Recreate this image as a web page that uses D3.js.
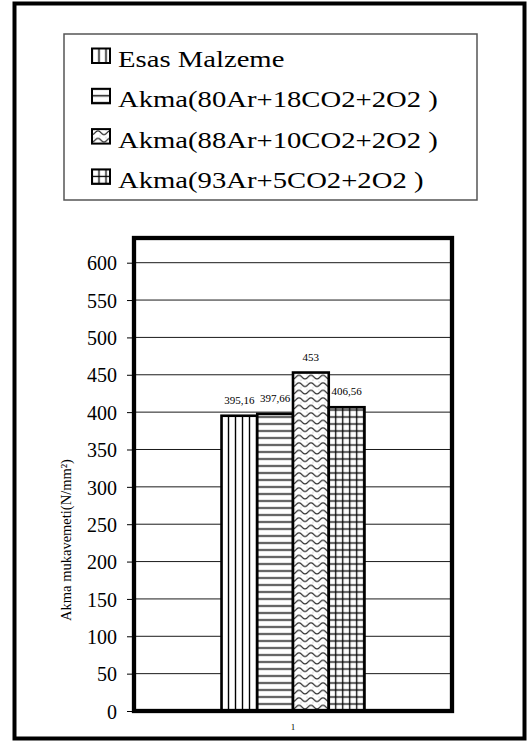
<!DOCTYPE html>
<html>
<head>
<meta charset="utf-8">
<script src="https://cdn.jsdelivr.net/npm/d3@7"></script>
<style>
  body { margin: 0; background: #fff; }
  text { font-family: "Liberation Serif", "Times New Roman", serif; fill: #000; }
</style>
</head>
<body>
<div id="chart"></div>
<script>
// data
var categories = ["1"];
var series = ["Esas Malzeme", "Akma(80Ar+18CO2+2O2 )", "Akma(88Ar+10CO2+2O2 )", "Akma(93Ar+5CO2+2O2 )"];
var values = [395.16, 397.66, 453, 406.56];
var patterns = ["vert", "horiz", "wave", "grid"];
var yTicks = [0, 50, 100, 150, 200, 250, 300, 350, 400, 450, 500, 550, 600];
var yTitle = "Akma mukavemeti(N/mm²)";

var width = 532;
var height = 743;

var plotLeft = 134, plotRight = 452, plotTop = 238, plotBottom = 711;

var svg = d3.select("#chart")
			.append("svg")
			.attr("width", width)
			.attr("height", height);

var defs = svg.append("defs");

// hatch fills, tile centred so the lines fall on (ox + k*step)
function addPattern(id, kind, ox, oy)
{
	var p = defs.append("pattern")
				.attr("id", id)
				.attr("patternUnits", "userSpaceOnUse");
	if (kind == "vert") {
		p.attr("width", 7).attr("height", 7).attr("x", ox - 3.5).attr("y", oy);
		p.append("rect").attr("width", 7).attr("height", 7).attr("fill", "#fff");
		p.append("line").attr("x1", 3.5).attr("x2", 3.5).attr("y1", 0).attr("y2", 7)
			.attr("stroke", "#000").attr("stroke-width", 1.4);
	} else if (kind == "horiz") {
		p.attr("width", 7).attr("height", 7).attr("x", ox).attr("y", oy - 3.5);
		p.append("rect").attr("width", 7).attr("height", 7).attr("fill", "#fff");
		p.append("line").attr("x1", 0).attr("x2", 7).attr("y1", 3.5).attr("y2", 3.5)
			.attr("stroke", "#000").attr("stroke-width", 1.4);
	} else if (kind == "grid") {
		p.attr("width", 7).attr("height", 7).attr("x", ox - 3.5).attr("y", oy - 3.5);
		p.append("rect").attr("width", 7).attr("height", 7).attr("fill", "#fff");
		p.append("line").attr("x1", 3.5).attr("x2", 3.5).attr("y1", 0).attr("y2", 7)
			.attr("stroke", "#000").attr("stroke-width", 1.3);
		p.append("line").attr("x1", 0).attr("x2", 7).attr("y1", 3.5).attr("y2", 3.5)
			.attr("stroke", "#000").attr("stroke-width", 1.3);
	} else {
		p.attr("width", 12).attr("height", 7.5).attr("x", ox).attr("y", oy);
		p.append("rect").attr("width", 12).attr("height", 7.5).attr("fill", "#fff");
		p.append("circle").attr("cx", 2).attr("cy", 1).attr("r", 0.5).attr("fill", "#999");
		p.append("circle").attr("cx", 8).attr("cy", 6.5).attr("r", 0.5).attr("fill", "#999");
		p.append("path").attr("d", "M0,5.5 C3,5.5 3,1.8 6,1.8 C9,1.8 9,5.5 12,5.5")
			.attr("fill", "none").attr("stroke", "#222").attr("stroke-width", 1.2);
	}
}

// outer frame
svg.append("rect")
	.attr("x", 14.5).attr("y", 3.5)
	.attr("width", 510).attr("height", 735)
	.attr("fill", "#fff")
	.attr("stroke", "#000")
	.attr("stroke-width", 4);

// scales
var x0 = d3.scaleBand()
			.domain(categories)
			.range([plotLeft, plotRight])
			.paddingOuter(0.612);

var x1 = d3.scaleBand()
			.domain(series)
			.range([0, x0.bandwidth()]);

var y = d3.scaleLinear()
			.domain([0, 600])
			.range([plotBottom, 262.7]);

// grid lines
var grupo_grilla = svg.append("g");
yTicks.filter(function(t){ return t > 0; }).forEach(function(t){
	grupo_grilla.append("line")
		.attr("x1", plotLeft).attr("x2", plotRight)
		.attr("y1", y(t)).attr("y2", y(t))
		.attr("stroke", "#1a1a1a")
		.attr("stroke-width", 1);
});

// y axis
var yAxis = svg.append("g")
				.attr("transform", "translate(" + plotLeft + ",0)")
				.call(d3.axisLeft(y).tickValues(yTicks).tickSize(7).tickPadding(10).tickFormat(d3.format("d")));
yAxis.select(".domain").remove();
yAxis.selectAll(".tick line").attr("stroke", "#000").attr("stroke-width", 1);
yAxis.selectAll(".tick text")
	.attr("font-family", "Liberation Serif")
	.attr("font-size", 20)
	.attr("dy", "0.36em")
	.attr("fill", "#000");

// bars
var grupo_barras = svg.append("g");
series.forEach(function(s, i){
	var bx = x0(categories[0]) + x1(s);
	addPattern("pb" + i, patterns[i], bx, y(0));
	grupo_barras.append("rect")
		.attr("x", bx)
		.attr("y", y(values[i]))
		.attr("width", x1.bandwidth())
		.attr("height", y(0) - y(values[i]))
		.attr("fill", "url(#pb" + i + ")")
		.attr("stroke", "#000")
		.attr("stroke-width", 2.6);
	grupo_barras.append("text")
		.attr("x", bx + x1.bandwidth() / 2)
		.attr("y", y(values[i]) - 12)
		.attr("text-anchor", "middle")
		.attr("font-size", 11)
		.text(String(values[i]).replace(".", ","));
});

// plot frame
svg.append("rect")
	.attr("x", plotLeft).attr("y", plotTop)
	.attr("width", plotRight - plotLeft)
	.attr("height", plotBottom - plotTop)
	.attr("fill", "none")
	.attr("stroke", "#000")
	.attr("stroke-width", 4.3);

// x category label
svg.append("text")
	.attr("x", x0(categories[0]) + x0.bandwidth() / 2)
	.attr("y", 730)
	.attr("text-anchor", "middle")
	.attr("font-size", 9)
	.text(categories[0]);

// y title
svg.append("text")
	.attr("transform", "translate(71,540) rotate(-90)")
	.attr("text-anchor", "middle")
	.attr("font-size", 14.5)
	.text(yTitle);

// legend
svg.append("rect")
	.attr("x", 64).attr("y", 34)
	.attr("width", 413).attr("height", 166)
	.attr("fill", "#fff")
	.attr("stroke", "#555")
	.attr("stroke-width", 1.5);

var grupo_leyenda = svg.append("g");
series.forEach(function(s, i){
	var by = 67 + i * 40.3;
	var sx = 92, sy = by - 18.5;
	addPattern("pl" + i, patterns[i], sx, sy);
	grupo_leyenda.append("rect")
		.attr("x", sx).attr("y", sy)
		.attr("width", 18).attr("height", 14.5)
		.attr("fill", "url(#pl" + i + ")")
		.attr("stroke", "#000")
		.attr("stroke-width", 2);
	var t = grupo_leyenda.append("text")
		.attr("x", 118)
		.attr("y", by)
		.attr("font-size", 23.5)
		.text(s);
	var len = t.node().getComputedTextLength();
	t.attr("textLength", len * 1.22).attr("lengthAdjust", "spacingAndGlyphs");
});
</script>
</body>
</html>
